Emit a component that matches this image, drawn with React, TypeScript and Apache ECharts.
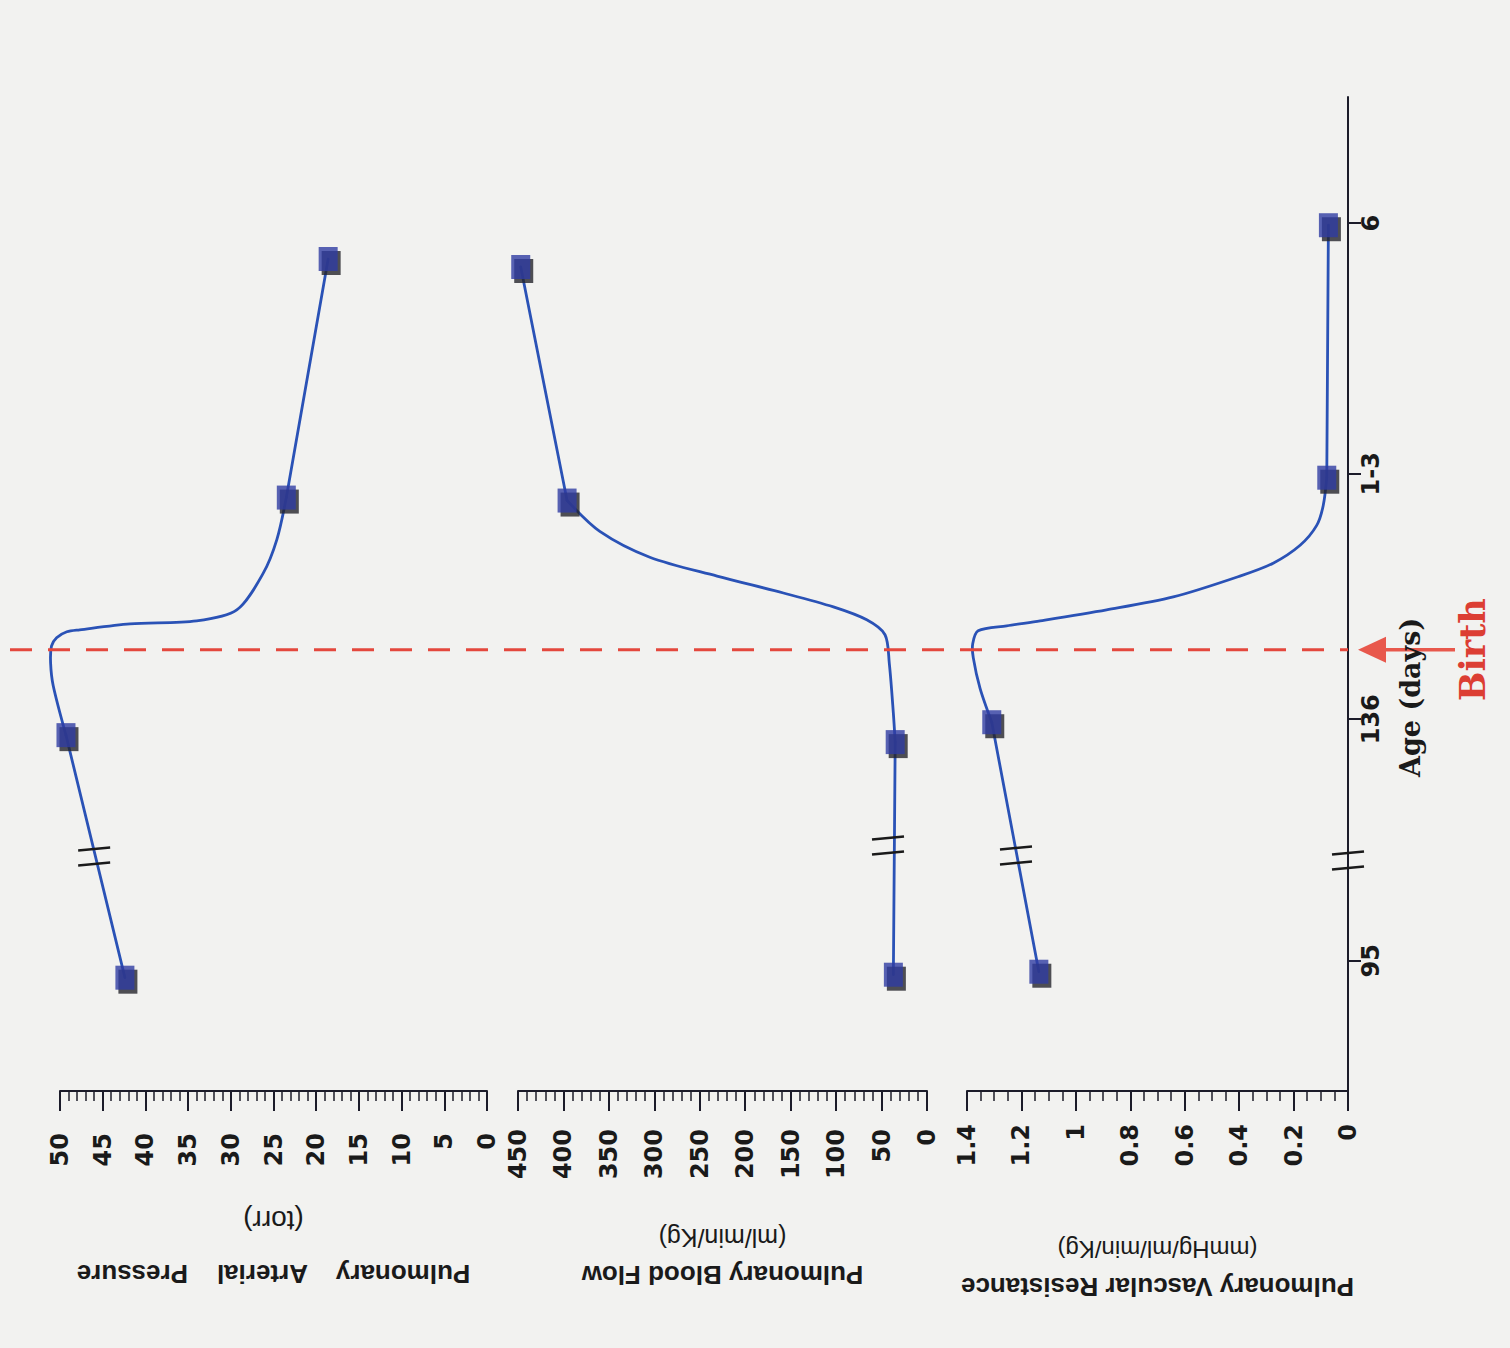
import React, { useEffect, useRef } from "react";
import * as echarts from "echarts";

// Age axis (custom, non-linear scale positions)
const ageLabels = ["95", "136", "1-3", "6"];
const ageTickPos = [13.1, 37.4, 62.1, 87.3];
const birthPos = 44.4;
const ageBreakPos = 23.2;

// Pulmonary Arterial Pressure (torr)
const papAge = [11.4, 35.8, 59.7, 83.7];
const papValue = [42.4, 49.3, 23.5, 18.6];
const papCurveAge = [35.8, 40.8, 43.05, 44.75, 45.6, 46.2, 46.4, 47.0, 47.3, 48.4, 52.1, 55.5, 59.7];
const papCurveValue = [49.3, 50.8, 51.1, 51.0, 50.4, 49.2, 47.7, 41.8, 34.0, 29.3, 26.2, 24.6, 23.5];
const papBreak = [46.0, 23.6];

// Pulmonary Blood Flow (ml/min/Kg)
const pbfAge = [11.7, 35.1, 59.4, 82.9];
const pbfValue = [37, 35, 396, 447];
const pbfCurveAge = [35.1, 38.0, 43.05, 45.9, 47.4, 48.7, 50.1, 51.8, 53.7, 56.3, 59.4];
const pbfCurveValue = [35, 37, 41.5, 46.2, 66.3, 103, 158, 231, 305, 360, 396];
const pbfBreak = [42.9, 24.7];

// Pulmonary Vascular Resistance (mmHg/ml/min/Kg)
const pvrAge = [12.0, 37.1, 61.7, 87.1];
const pvrValue = [1.136, 1.309, 0.078, 0.072];
const pvrCurveAge = [37.1, 40.5, 43.6, 45.0, 46.3, 46.8, 47.3, 48.4, 49.7, 51.8, 53.1, 54.9, 56.9, 58.9, 61.7];
const pvrCurveValue = [1.309, 1.352, 1.377, 1.379, 1.359, 1.254, 1.131, 0.887, 0.642, 0.397, 0.275, 0.176, 0.115, 0.091, 0.078];
const pvrBreak = [1.22, 23.7];

const INK = "#1c1c2a";
const BLUE_LINE = "#2a52b6";
const BLUE_MARK = "#2f3ca2";
const RED = "#e4483d";
const BG = "#f2f2f0";

function pairs(vals: number[], ages: number[]) {
  return vals.map((v, i) => [v, ages[i]]);
}

function valueAxis(
  gridIndex: number,
  max: number,
  interval: number,
  minorSplit: number,
  title: string,
  unit: string,
  margin: number,
  nameGap: number,
  lineH: number,
  unitSize: number
) {
  return {
    type: "value",
    gridIndex,
    min: 0,
    max,
    interval,
    inverse: true,
    position: "bottom",
    axisLine: { show: true, onZero: false, lineStyle: { color: INK, width: 2 } },
    axisTick: { show: true, length: 20, lineStyle: { color: INK, width: 2 } },
    minorTick: { show: true, splitNumber: minorSplit, length: 10, lineStyle: { color: INK, width: 1.5 } },
    splitLine: { show: false },
    minorSplitLine: { show: false },
    axisLabel: {
      rotate: 90,
      margin,
      fontFamily: "DejaVu Sans",
      fontWeight: "bold",
      fontSize: 24,
      color: "#1a1a1a",
      showMinLabel: true,
      showMaxLabel: true,
    },
    name: `{t|${title}}\n{u|${unit}}`,
    nameLocation: "middle",
    nameRotate: 180,
    nameGap,
    nameMoveOverlap: false,
    nameTextStyle: {
      color: "#1a1a1a",
      rich: {
        t: { fontFamily: "Liberation Sans", fontWeight: "bold", fontSize: 26, lineHeight: lineH, color: "#1a1a1a" },
        u: { fontFamily: "Liberation Sans", fontSize: unitSize, lineHeight: lineH, color: "#1a1a1a" },
      },
    },
  };
}

function ageAxis(gridIndex: number, visible: boolean) {
  return {
    type: "value",
    gridIndex,
    min: 0,
    max: 100,
    position: "right",
    show: visible,
    axisLine: { show: visible, onZero: false, lineStyle: { color: INK, width: 2 } },
    axisTick: { show: visible, length: 13, customValues: ageTickPos, lineStyle: { color: INK, width: 2 } },
    axisLabel: {
      show: visible,
      customValues: ageTickPos,
      rotate: 90,
      margin: 11,
      fontFamily: "DejaVu Sans",
      fontWeight: "bold",
      fontSize: 24,
      color: "#1a1a1a",
      formatter: (v: number) => {
        let best = 0;
        ageTickPos.forEach((p, i) => {
          if (Math.abs(p - v) < Math.abs(ageTickPos[best] - v)) best = i;
        });
        return ageLabels[best];
      },
    },
    splitLine: { show: false },
  };
}

function breakRender(params: any, api: any) {
  const p = api.coord([api.value(0), api.value(1)]);
  const st = { stroke: "#1a1a1a", lineWidth: 2.5 };
  return {
    type: "group",
    children: [
      { type: "line", shape: { x1: p[0] - 16, y1: p[1] - 6, x2: p[0] + 16, y2: p[1] - 9 }, style: st },
      { type: "line", shape: { x1: p[0] - 16, y1: p[1] + 9, x2: p[0] + 16, y2: p[1] + 6 }, style: st },
    ],
  };
}

function polySeries(idx: number, vals: number[], ages: number[], smooth: number) {
  return {
    type: "custom",
    xAxisIndex: idx,
    yAxisIndex: idx,
    clip: false,
    silent: true,
    z: 2,
    data: [[vals[0], ages[0]]],
    renderItem: (params: any, api: any) => ({
      type: "polyline",
      shape: {
        points: vals.map((v, i) => api.coord([v, ages[i]])),
        smooth,
      },
      style: { stroke: BLUE_LINE, lineWidth: 2.8, fill: null, lineCap: "round", lineJoin: "round" },
    }),
  };
}

function panelSeries(
  idx: number,
  vals: number[],
  ages: number[],
  curveVals: number[],
  curveAges: number[],
  brk: number[]
) {
  return [
    polySeries(idx, vals.slice(0, 2), ages.slice(0, 2), 0),
    polySeries(idx, curveVals, curveAges, 0.3),
    polySeries(idx, vals.slice(2, 4), ages.slice(2, 4), 0),
    {
      type: "scatter",
      xAxisIndex: idx,
      yAxisIndex: idx,
      symbol: "rect",
      symbolSize: [19, 24],
      symbolOffset: [3, 4],
      clip: false,
      itemStyle: { color: "#24242c" },
      data: pairs(vals, ages),
      z: 3,
      silent: true,
    },
    {
      type: "scatter",
      xAxisIndex: idx,
      yAxisIndex: idx,
      symbol: "rect",
      symbolSize: [19, 24],
      clip: false,
      itemStyle: { color: BLUE_MARK },
      data: pairs(vals, ages),
      z: 4,
      silent: true,
    },
    {
      type: "custom",
      xAxisIndex: idx,
      yAxisIndex: idx,
      clip: false,
      renderItem: breakRender,
      data: [brk],
      z: 5,
      silent: true,
    },
  ];
}

export default function App() {
  const ref = useRef<HTMLDivElement>(null);

  useEffect(() => {
    if (!ref.current) return;
    const chart = echarts.init(ref.current, undefined, { renderer: "svg" });
    const option: any = {
      animation: false,
      backgroundColor: BG,
      grid: [
        { left: 60, right: 1023, top: 97, bottom: 257 },
        { left: 518, right: 583, top: 97, bottom: 257 },
        { left: 967, right: 162, top: 97, bottom: 257 },
      ],
      xAxis: [
        valueAxis(0, 50, 5, 5, "Pulmonary    Arterial    Pressure", "(torr)", 42, 103, 53, 28),
        valueAxis(1, 450, 50, 5, "Pulmonary Blood Flow", "(ml/min/Kg)", 38, 128, 37, 25),
        valueAxis(2, 1.4, 0.2, 4, "Pulmonary Vascular Resistance", "(mmHg/ml/min/Kg)", 33, 140, 37, 24),
      ],
      yAxis: [ageAxis(0, false), ageAxis(1, false), ageAxis(2, true)],
      series: [
        ...panelSeries(0, papValue, papAge, papCurveValue, papCurveAge, papBreak),
        ...panelSeries(1, pbfValue, pbfAge, pbfCurveValue, pbfCurveAge, pbfBreak),
        ...panelSeries(2, pvrValue, pvrAge, pvrCurveValue, pvrCurveAge, pvrBreak),
        {
          type: "custom",
          xAxisIndex: 2,
          yAxisIndex: 2,
          clip: false,
          renderItem: breakRender,
          data: [[0, ageBreakPos]],
          z: 5,
          silent: true,
        },
      ],
    };
    chart.setOption(option);

    const yBirth = chart.convertToPixel({ yAxisIndex: 2 }, birthPos) as number;
    const xEnd = chart.convertToPixel({ xAxisIndex: 2 }, 0) as number;
    const yAgeLabel = chart.convertToPixel({ yAxisIndex: 2 }, 39.6) as number;

    chart.setOption({
      graphic: [
        {
          type: "line",
          z: 10,
          shape: { x1: 10, y1: yBirth, x2: xEnd, y2: yBirth },
          style: { stroke: RED, lineWidth: 3, lineDash: [22, 16] },
        },
        {
          type: "line",
          z: 10,
          shape: { x1: xEnd + 34, y1: yBirth, x2: 1455, y2: yBirth },
          style: { stroke: "#e8584c", lineWidth: 3.5 },
        },
        {
          type: "polygon",
          z: 10,
          shape: {
            points: [
              [xEnd + 10, yBirth],
              [xEnd + 38, yBirth - 13],
              [xEnd + 38, yBirth + 13],
            ],
          },
          style: { fill: "#e8584c" },
        },
        {
          type: "text",
          z: 10,
          x: 1472,
          y: yBirth,
          rotation: Math.PI / 2,
          style: {
            text: "Birth",
            fill: "#dc3e33",
            font: 'bold 35px "DejaVu Serif"',
            textAlign: "center",
            textVerticalAlign: "middle",
            align: "center",
            verticalAlign: "middle",
          },
        },
        {
          type: "text",
          z: 10,
          x: 1410,
          y: yAgeLabel,
          rotation: Math.PI / 2,
          style: {
            text: "Age (days)",
            fill: "#1a1a1a",
            font: 'bold 27px "DejaVu Serif"',
            textAlign: "center",
            textVerticalAlign: "middle",
            align: "center",
            verticalAlign: "middle",
          },
        },
      ],
    });

    return () => {
      chart.dispose();
    };
  }, []);

  return (
    <div
      ref={ref}
      style={{
        position: "absolute",
        left: 0,
        top: 0,
        width: 1510,
        height: 1348,
        background: BG,
      }}
    />
  );
}
